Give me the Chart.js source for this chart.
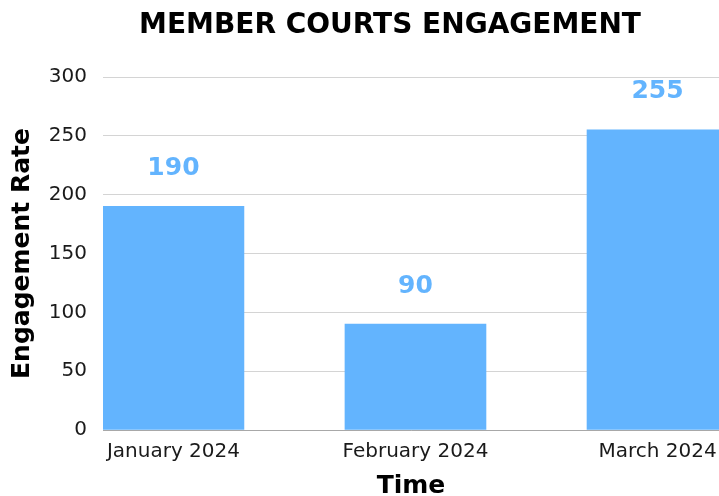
<!DOCTYPE html>
<html>
<head>
<meta charset="utf-8">
<script src="https://cdn.jsdelivr.net/npm/chart.js@4"></script>
<style>
  html, body { margin: 0; padding: 0; background: #fff; overflow: hidden; }
  #wrap { width: 719px; height: 496px; }
</style>
</head>
<body>
<div id="wrap"><canvas id="chart"></canvas></div>
<script>
const chartTitle = 'MEMBER COURTS ENGAGEMENT';
const months = ['January 2024', 'February 2024', 'March 2024'];
const engagement = [190, 90, 255];
const yTicks = [0, 50, 100, 150, 200, 250, 300];

const FONT = '"DejaVu Sans", sans-serif';
const BLUE = '#63b4fe';

// value labels above each bar + the heading (sits a bit left of centre in the original)
const barLabels = {
    id: 'barLabels',
    afterDatasetsDraw(chart) {
        const ctx = chart.ctx;
        const meta = chart.getDatasetMeta(0);
        ctx.save();
        ctx.font = 'bold 25px ' + FONT;
        ctx.fillStyle = BLUE;
        ctx.textAlign = 'center';
        ctx.textBaseline = 'middle';
        meta.data.forEach((bar, i) => {
            ctx.fillText(String(engagement[i]), bar.x, bar.y - 38);
        });
        ctx.font = 'bold 28px ' + FONT;
        ctx.fillStyle = '#000';
        ctx.fillText(chartTitle, 390, 26);
        ctx.restore();
    }
};

const ctx = document.getElementById('chart').getContext('2d');
new Chart(ctx, {
    type: 'bar',
    data: {
        datasets: [{
            data: engagement.map((v, i) => ({x: i, y: v})),
            backgroundColor: BLUE,
            barThickness: 141
        }]
    },
    options: {
        responsive: true,
        maintainAspectRatio: false,
        animation: false,
        layout: {padding: {top: 77, left: 0, right: 0, bottom: 0}},
        plugins: {
            legend: {display: false},
            tooltip: {enabled: false},
            title: {display: false}
        },
        scales: {
            x: {
                type: 'linear',
                offset: false,
                bounds: 'ticks',
                min: -0.291,
                max: 2.254,
                grid: {display: false},
                border: {display: true, color: '#a8a8a8', width: 1},
                afterBuildTicks: (scale) => {
                    scale.ticks = months.map((m, i) => ({value: i}));
                },
                afterFit: (scale) => {
                    scale.height = 66;
                    scale.paddingLeft = 0;
                    scale.paddingRight = 0;
                },
                ticks: {
                    autoSkip: false,
                    maxRotation: 0,
                    padding: 2,
                    color: '#1a1a1a',
                    font: {family: FONT, size: 20},
                    callback: (v) => months[v]
                },
                title: {
                    display: true,
                    text: 'Time',
                    color: '#000',
                    font: {family: FONT, size: 25, weight: 'bold'},
                    padding: {top: 12, bottom: -5}
                }
            },
            y: {
                min: 0,
                max: 300,
                afterBuildTicks: (scale) => {
                    scale.ticks = yTicks.map(v => ({value: v}));
                },
                afterFit: (scale) => {
                    scale.width = 103;
                    scale.paddingTop = 0;
                    scale.paddingBottom = 0;
                },
                grid: {color: '#d4d4d4', drawTicks: false, lineWidth: 1},
                border: {display: false},
                ticks: {
                    padding: 16,
                    color: '#1a1a1a',
                    font: {family: FONT, size: 20}
                },
                title: {
                    display: true,
                    text: 'Engagement Rate',
                    color: '#000',
                    font: {family: FONT, size: 25, weight: 'bold'},
                    padding: {top: 7, bottom: 0}
                }
            }
        }
    },
    plugins: [barLabels]
});
</script>
</body>
</html>
